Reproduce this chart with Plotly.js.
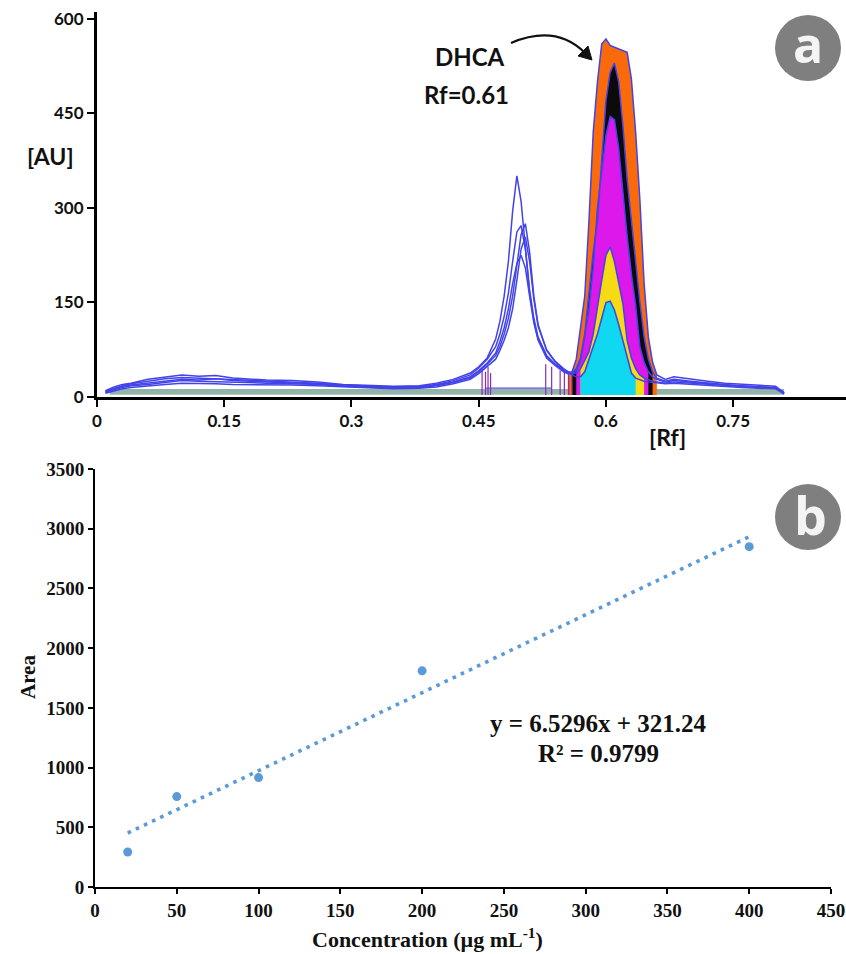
<!DOCTYPE html>
<html>
<head>
<meta charset="utf-8">
<script src="https://cdn.plot.ly/plotly-3.0.1.min.js"></script>
<style>html,body{margin:0;padding:0;background:#fff;}#chart{width:846px;height:954px;}</style>
</head>
<body>
<div id="chart"></div>
<script>
// ---------- Panel (a): densitogram ----------
const rf = [0.01,0.02,0.03,0.04,0.06,0.08,0.10,0.12,0.14,0.16,0.18,0.20,
  0.23,0.26,0.29,0.32,0.35,0.38,0.40,0.42,0.44,0.45,0.46,0.47,
  0.475,0.48,0.485,0.49,0.495,0.50,0.505,0.51,0.515,0.52,0.53,0.54,
  0.55,0.555,0.56,0.565,0.57,0.575,0.58,0.585,0.59,0.595,0.60,0.605,
  0.61,0.615,0.62,0.625,0.63,0.635,0.64,0.645,0.65,0.655,0.66,0.67,
  0.68,0.70,0.72,0.74,0.76,0.78,0.80,0.81];

const auOrange = [10,16,20,22,28,32, 35,33,34,30,28,27, 26,24,20,18,17,18, 22,28,38,48,62,92,
  120,160,215,295,351,310, 235,165,120,92,65,52, 42,39,40,60,110,160, 280,420,500,560,568,558,
  555,552,550,547,505,420, 313,180,95,55,35,28, 32,28,25,22,20,19,17,7];
const auBlack = [8,13,17,19,22,26, 28,27,29,26,25,24, 22,21,18,16,15,16, 19,24,32,42,54,70,
  88,110,140,180,212,225, 205,160,118,90,62,50, 40,37,38,45,62,100, 165,230,281,380,470,515,
  530,500,430,345,280,210, 150,95,60,40,30,25, 28,25,22,20,18,16,15,6];
const auMagenta = [9,14,18,21,25,29, 31,30,28,27,26,25, 24,22,19,17,16,17, 20,26,35,46,60,80,
  100,128,165,215,262,272, 235,170,125,95,66,52, 42,38,36,42,58,95, 140,205,300,360,415,445,
  440,395,320,255,195,145, 80,55,40,32,28,24, 26,23,21,19,17,16,14,6];
const auYellow = [7,12,15,18,20,23, 26,25,24,23,22,22, 21,20,17,15,14,15, 18,23,30,40,52,66,
  80,100,125,160,210,258, 275,230,160,115,74,56, 44,40,37,38,45,58, 72,100,145,185,225,238,
  215,180,148,90,62,45, 35,30,27,25,24,22, 24,22,20,18,16,15,14,5];
const auCyan = [6,10,13,15,18,20, 22,22,21,20,20,19, 19,18,16,14,13,14, 16,21,28,37,48,60,
  74,90,110,140,185,235, 254,215,155,112,75,57, 45,40,35,32,32,40, 60,77,100,125,150,152,
  138,115,90,65,38,30, 27,25,24,23,22,21, 22,20,18,17,15,14,13,5];

// integration windows of the DHCA peak (Rf start / end) and fill colours, largest first
const traceNames = ['400', '200', '100', '50', '20'];
const traceAU = [auOrange, auBlack, auMagenta, auYellow, auCyan];
const winStart = [0.555, 0.56, 0.565, 0.57, 0.57];
const winEnd   = [0.66, 0.655, 0.65, 0.645, 0.635];
const fillColors = ['#fa6a0a', '#0b0b0b', '#dc18ea', '#f6da14', '#0fd8f0'];
const fillBase = 3;

// baselines and integration markers
const baseLevels = [5, 8, 11];
const baseRfStart = 0.015, baseRfEnd = 0.81;
const markRf  = [0.454,0.458,0.461,0.464,0.529,0.536,0.546,0.551,0.556,0.560];
const markTop = [45,40,48,38,52,48,42,40,38,36];

const xTickVals = [0, 0.15, 0.3, 0.45, 0.6, 0.75];
const xTickText = ['0', '0.15', '0.3', '0.45', '0.6', '0.75'];
const yTickVals = [0, 150, 300, 450, 600];

// ---------- Panel (b): calibration ----------
const conc = [20, 50, 100, 200, 400];
const area = [293, 757, 916, 1810, 2850];
const slope = 6.5296, intercept = 321.24;
const xTicks2 = [0,50,100,150,200,250,300,350,400,450];
const yTicks2 = [0,500,1000,1500,2000,2500,3000,3500];

// ---------- build ----------
const W = 846, H = 954;
const px = x => x / W;
const py = y => 1 - y / H;

const data = [];
// baselines
baseLevels.forEach(b => data.push({x:[baseRfStart, baseRfEnd], y:[b, b], xaxis:'x', yaxis:'y', mode:'lines',
  line:{color:'#6c9a8b', width:1.4}, hoverinfo:'skip'}));
// fills
traceAU.forEach((au, i) => {
  const xs = [winStart[i]], ys = [fillBase];
  rf.forEach((r, k) => { if (r >= winStart[i] - 1e-9 && r <= winEnd[i] + 1e-9) { xs.push(r); ys.push(au[k]); } });
  xs.push(winEnd[i]); ys.push(fillBase);
  data.push({x:xs, y:ys, xaxis:'x', yaxis:'y', mode:'lines', fill:'toself', fillcolor:fillColors[i],
    line:{width:0, color:fillColors[i]}, hoverinfo:'skip'});
});
// integration markers
const mx = [], my = [];
markRf.forEach((r, i) => { mx.push(r, r, null); my.push(fillBase, markTop[i], null); });
data.push({x:mx, y:my, xaxis:'x', yaxis:'y', mode:'lines', line:{color:'#8a2cb5', width:1.2}, hoverinfo:'skip'});
data.push({x:[markRf[1], markRf[5]], y:[14, 14], xaxis:'x', yaxis:'y', mode:'lines', line:{color:'#5a4ae0', width:1.2}, hoverinfo:'skip'});
// outline traces
traceAU.forEach((au, i) => data.push({x:rf, y:au, xaxis:'x', yaxis:'y', mode:'lines', name:traceNames[i],
  line:{color:'#4343ea', width:1.5}}));

// calibration
const xFit = [conc[0], conc[conc.length - 1]];
const yFit = xFit.map(v => slope * v + intercept);
data.push({x:xFit, y:yFit, xaxis:'x2', yaxis:'y2', mode:'lines', line:{color:'#5b9bd5', width:3.6, dash:'3.6px,5.4px'}, hoverinfo:'skip'});
data.push({x:conc, y:area, xaxis:'x2', yaxis:'y2', mode:'markers', marker:{color:'#5b9bd5', size:9}});

const sansTick = {family:'Lato, "Open Sans", sans-serif', size:17, color:'#111', weight:'bold'};
const serifTick = {family:'"Liberation Serif", "Times New Roman", serif', size:19, color:'#111', weight:'bold'};

// arrowhead of the curved DHCA pointer (tip, 45° direction)
const tip = [592, 60];
const head = `M ${px(tip[0])},${py(tip[1])} L ${px(578)},${py(56)} L ${px(588)},${py(46)} Z`;

const layout = {
  width: W, height: H, margin:{l:0, r:0, t:0, b:0},
  paper_bgcolor:'#fff', plot_bgcolor:'rgba(0,0,0,0)', showlegend:false,
  xaxis:{domain:[px(97), 1], range:[0, 0.883], anchor:'y', tickvals:xTickVals, ticktext:xTickText,
    ticks:'outside', ticklen:7, tickwidth:2, tickcolor:'#000', showline:true, linewidth:3, linecolor:'#000',
    showgrid:false, zeroline:false, tickfont:sansTick},
  yaxis:{domain:[py(397), py(12)], range:[0, 611], anchor:'x', tickvals:yTickVals,
    ticks:'outside', ticklen:7, tickwidth:2, tickcolor:'#000', showline:true, linewidth:3, linecolor:'#000',
    showgrid:false, zeroline:false, tickfont:sansTick},
  xaxis2:{domain:[px(95), px(831)], range:[0, 450], anchor:'y2', tickvals:xTicks2,
    ticks:'outside', ticklen:5, tickwidth:2, tickcolor:'#000', showline:true, linewidth:2, linecolor:'#000',
    showgrid:false, zeroline:false, tickfont:serifTick},
  yaxis2:{domain:[py(887), py(469)], range:[0, 3500], anchor:'x2', tickvals:yTicks2,
    ticks:'outside', ticklen:5, tickwidth:2, tickcolor:'#000', showline:true, linewidth:2, linecolor:'#000',
    showgrid:false, zeroline:false, tickfont:serifTick},
  shapes:[
    {type:'circle', xref:'paper', yref:'paper', x0:px(775), x1:px(841), y0:py(81), y1:py(15), fillcolor:'#7f7f7f', line:{width:0}},
    {type:'circle', xref:'paper', yref:'paper', x0:px(775), x1:px(841), y0:py(550), y1:py(484), fillcolor:'#7f7f7f', line:{width:0}},
    {type:'path', xref:'paper', yref:'paper',
      path:`M ${px(511)},${py(43)} Q ${px(556)},${py(24)} ${px(585)},${py(53)}`, line:{color:'#111', width:2.2}},
    {type:'path', xref:'paper', yref:'paper', path:head, fillcolor:'#111', line:{color:'#111', width:1}}
  ],
  annotations:[
    {xref:'paper', yref:'paper', x:px(50), y:py(156), text:'[AU]', showarrow:false, xanchor:'center', yanchor:'middle', font:{family:'Lato, sans-serif', size:23, color:'#111', weight:'bold'}},
    {xref:'paper', yref:'paper', x:px(667), y:py(437), text:'[Rf]', showarrow:false, xanchor:'center', yanchor:'middle', font:{family:'Lato, sans-serif', size:23, color:'#111', weight:'bold'}},
    {xref:'paper', yref:'paper', x:px(470), y:py(56), text:'DHCA', showarrow:false, xanchor:'center', yanchor:'middle', font:{family:'Lato, sans-serif', size:24, color:'#111', weight:'bold'}},
    {xref:'paper', yref:'paper', x:px(466), y:py(94), text:'Rf=0.61', showarrow:false, xanchor:'center', yanchor:'middle', font:{family:'Lato, sans-serif', size:24, color:'#111', weight:'bold'}},
    {xref:'paper', yref:'paper', x:px(808), y:py(44), text:'a', showarrow:false, xanchor:'center', yanchor:'middle', font:{family:'"Open Sans", sans-serif', size:50, color:'#f4f4f4', weight:'bold'}},
    {xref:'paper', yref:'paper', x:px(810), y:py(514), text:'b', showarrow:false, xanchor:'center', yanchor:'middle', font:{family:'"Open Sans", sans-serif', size:52, color:'#f4f4f4', weight:'bold'}},
    {xref:'paper', yref:'paper', x:px(598), y:py(723), text:'y = 6.5296x + 321.24', showarrow:false, xanchor:'center', yanchor:'middle', font:{family:'"Liberation Serif", serif', size:25, color:'#111', weight:'bold'}},
    {xref:'paper', yref:'paper', x:px(598), y:py(753), text:'R² = 0.9799', showarrow:false, xanchor:'center', yanchor:'middle', font:{family:'"Liberation Serif", serif', size:25, color:'#111', weight:'bold'}},
    {xref:'paper', yref:'paper', x:px(28), y:py(677), text:'Area', textangle:-90, showarrow:false, xanchor:'center', yanchor:'middle', font:{family:'"Liberation Serif", serif', size:21, color:'#111', weight:'bold'}},
    {xref:'paper', yref:'paper', x:px(428), y:py(938), text:'Concentration (µg mL<sup>-1</sup>)', showarrow:false, xanchor:'center', yanchor:'middle', font:{family:'"Liberation Serif", serif', size:22, color:'#111', weight:'bold'}}
  ]
};

Plotly.newPlot('chart', data, layout, {staticPlot:true, displayModeBar:false});
</script>
</body>
</html>
